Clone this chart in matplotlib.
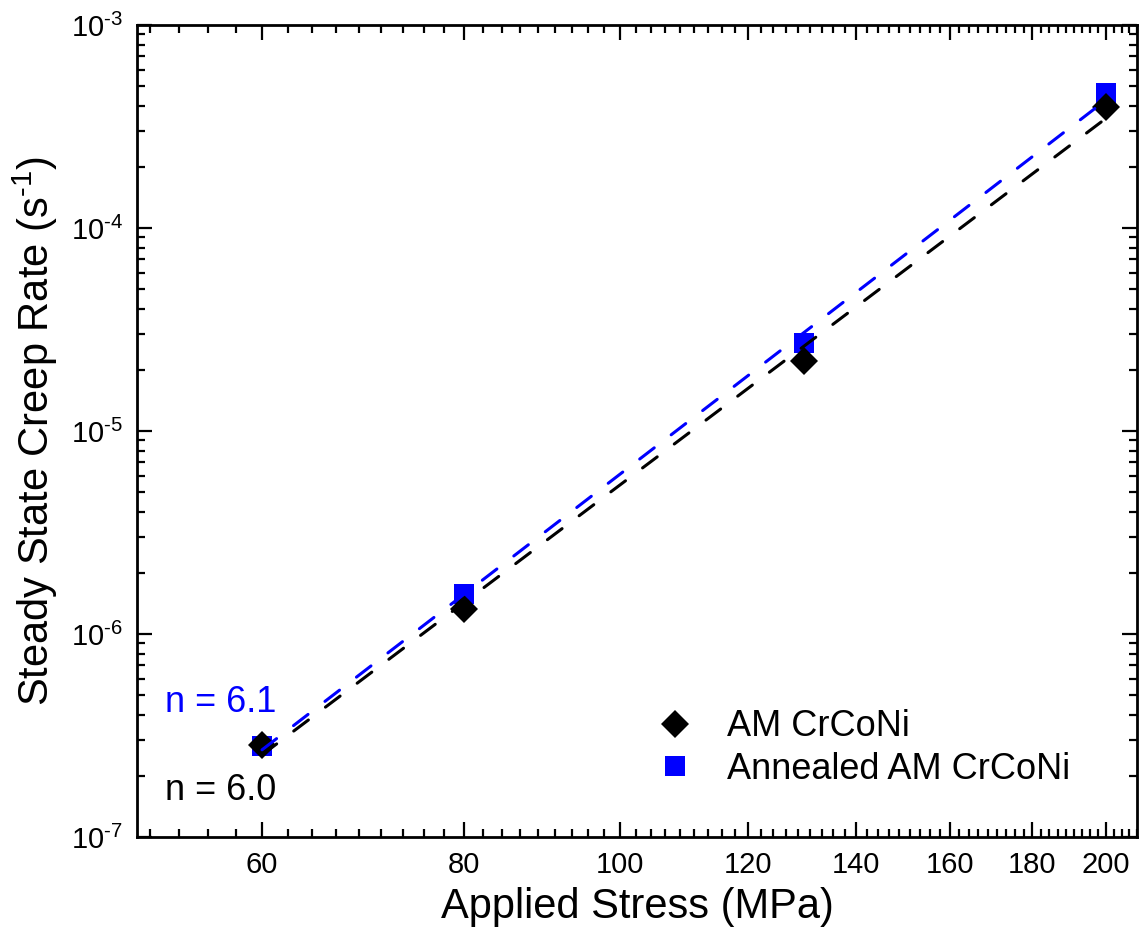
import numpy as np
import matplotlib
matplotlib.use('Agg')
import matplotlib.pyplot as plt
from matplotlib.ticker import FixedLocator, LogLocator, NullFormatter, FuncFormatter

plt.rcParams['font.family'] = ['Liberation Sans', 'DejaVu Sans']
plt.rcParams['mathtext.fontset'] = 'custom'
plt.rcParams['mathtext.rm'] = 'Liberation Sans'
plt.rcParams['mathtext.it'] = 'Liberation Sans:italic'
plt.rcParams['mathtext.bf'] = 'Liberation Sans:bold'

# data
stress = [60, 80, 130, 200]                                # MPa
am_rate = [2.84e-7, 1.33e-6, 2.21e-5, 3.94e-4]            # 1/s
annealed_rate = [2.80e-7, 1.57e-6, 2.71e-5, 4.62e-4]      # 1/s
x_ticks = [60, 80, 100, 120, 140, 160, 180, 200]
x_tick_labels = ['60', '80', '100', '120', '140', '160', '180', '200']


def power_fit(x, y):
    # log-log least squares, returns exponent n and line over the data range
    n, c = np.polyfit(np.log10(x), np.log10(y), 1)
    xs = np.array([min(x), max(x)])
    return n, xs, 10 ** (c + n * np.log10(xs))


n_am, fx_am, fy_am = power_fit(stress, am_rate)
n_an, fx_an, fy_an = power_fit(stress, annealed_rate)

fig = plt.figure(figsize=(11.43, 9.4), dpi=100)
ax = fig.add_axes([137/1143, 1 - 837/940, 1000/1143, 812/940])

ax.plot(stress, annealed_rate, 's', color='#0000ff', ms=14.5, mew=0,
        label='Annealed AM CrCoNi', zorder=3)
ax.plot(stress, am_rate, 'D', color='black', ms=14, mew=0,
        label='AM CrCoNi', zorder=4)
ax.plot(fx_an, fy_an, color='#0000ff', lw=2.2, dashes=(6, 7),
        dash_capstyle='round', zorder=5)
ax.plot(fx_am, fy_am, color='black', lw=2.2, dashes=(6, 7),
        dash_capstyle='round', zorder=5)

ax.set_xscale('log')
ax.set_yscale('log')
ax.set_xlim(50.2, 209)
ax.set_ylim(1e-7, 1e-3)

ax.xaxis.set_major_locator(FixedLocator(x_ticks))
ax.set_xticklabels(x_tick_labels)
# 8 minor ticks between the 20 MPa majors
minor = []
for i in range(-1, 8):
    start = 60 + 20 * i
    for k in range(1, 9):
        v = start + k * 20 / 9
        if 50.2 < v < 209:
            minor.append(v)
ax.xaxis.set_minor_locator(FixedLocator(minor))
ax.xaxis.set_minor_formatter(NullFormatter())
ax.yaxis.set_major_locator(LogLocator(base=10, numticks=10))
ax.yaxis.set_major_formatter(FuncFormatter(
    lambda v, p: r'$\mathregular{10^{\text{-}%d}}$' % round(-np.log10(v))))
ax.yaxis.set_minor_locator(LogLocator(base=10, subs=np.arange(2, 10), numticks=10))
ax.yaxis.set_minor_formatter(NullFormatter())

ax.tick_params(which='both', direction='in', top=True, right=True, width=1.6)
ax.tick_params(which='major', length=11, labelsize=21, pad=10)
ax.tick_params(which='minor', length=6)
for s in ax.spines.values():
    s.set_linewidth(2)

ax.set_xlabel('Applied Stress (MPa)', fontsize=30, labelpad=6)
ax.set_ylabel('Steady State Creep Rate (s$^{\\text{-}1}$)', fontsize=30, labelpad=8)

ax.text(0.028, 0.154, 'n = %.1f' % n_an, color='#0000ff', fontsize=26,
        transform=ax.transAxes, va='baseline')
ax.text(0.028, 0.046, 'n = %.1f' % n_am, color='black', fontsize=26,
        transform=ax.transAxes, va='baseline')

h, l = ax.get_legend_handles_labels()
ax.legend(h[::-1], l[::-1], loc='lower right', bbox_to_anchor=(0.966, 0.022),
          frameon=False, fontsize=26, handletextpad=0.6, labelspacing=0.2,
          handlelength=1.7)

fig.savefig('out.png', dpi=100)
